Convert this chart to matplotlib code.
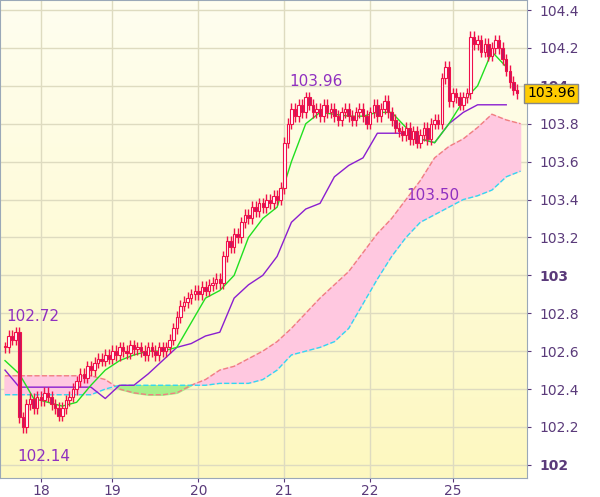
import matplotlib.pyplot as plt
import numpy as np
from matplotlib.colors import LinearSegmentedColormap

# hourly closes
closes = [102.62,102.68,102.66,102.70,102.25,102.20,102.32,102.35,102.30,102.36,102.34,102.38,
          102.36,102.32,102.30,102.26,102.30,102.34,102.36,102.40,102.44,102.48,102.46,102.52,
          102.50,102.54,102.56,102.55,102.58,102.56,102.60,102.58,102.62,102.60,102.59,102.63,
          102.61,102.62,102.60,102.58,102.62,102.60,102.58,102.62,102.60,102.62,102.66,102.72,
          102.78,102.84,102.86,102.88,102.90,102.92,102.90,102.94,102.92,102.95,102.96,102.98,
          102.96,103.10,103.18,103.15,103.22,103.20,103.28,103.32,103.30,103.36,103.34,103.38,
          103.36,103.40,103.38,103.42,103.40,103.46,103.70,103.80,103.88,103.84,103.90,103.86,
          103.94,103.90,103.86,103.88,103.84,103.90,103.86,103.88,103.84,103.82,103.86,103.88,
          103.84,103.82,103.86,103.88,103.84,103.80,103.86,103.90,103.84,103.88,103.92,103.86,
          103.82,103.78,103.76,103.74,103.78,103.72,103.76,103.70,103.74,103.78,103.72,103.80,
          103.82,103.80,104.04,104.10,103.92,103.96,103.94,103.90,103.94,103.96,104.26,104.22,
          104.24,104.18,104.22,104.16,104.20,104.24,104.20,104.14,104.08,104.02,103.98,103.96]

# ichimoku lines sampled every 4 bars
span_a = [102.47]*7 + [102.45,102.40,102.38,102.37,102.37,102.38,102.42,102.45,102.50,102.52,
          102.56,102.60,102.65,102.72,102.80,102.88,102.95,103.02,103.12,103.22,103.30,103.40,
          103.50,103.62,103.68,103.72,103.78,103.85,103.82,103.80]
span_b = [102.37]*7 + [102.40,102.42,102.42,102.42,102.42,102.42,102.42,102.42,102.43,102.43,
          102.43,102.45,102.50,102.58,102.60,102.62,102.65,102.72,102.85,102.98,103.10,103.20,
          103.28,103.32,103.36,103.40,103.42,103.45,103.52,103.55]
kijun = [102.50,102.41,102.41,102.41,102.41,102.41,102.41,102.35,102.42,102.42,102.48,102.55,
         102.62,102.64,102.68,102.70,102.88,102.95,103.00,103.10,103.28,103.35,103.38,103.52,
         103.58,103.62,103.75,103.75,103.75,103.72,103.70,103.80,103.86,103.90,103.90,103.90]
tenkan = [102.55,102.48,102.35,102.33,102.31,102.33,102.42,102.50,102.55,102.58,102.60,102.60,
          102.62,102.75,102.88,102.92,103.00,103.20,103.30,103.36,103.60,103.80,103.86,103.85,
          103.84,103.84,103.86,103.86,103.78,103.72,103.70,103.80,103.92,104.00,104.18,104.10]
day_labels = ['18', '19', '20', '21', '22', '25']
day_pos = [10, 30, 54, 78, 102, 125]
last_price = 103.96

fig = plt.figure(figsize=(6, 4.97), dpi=100)
ax = fig.add_axes([0, 0.038, 527/600, 0.962])
xl = (-1.4, 145.8)
yl = (101.93, 104.453)

# pale yellow gradient background
grad = np.linspace(0, 1, 100).reshape(-1, 1)
cm = LinearSegmentedColormap.from_list('bg', ['#fdf8c0', '#fffef0'])
ax.imshow(grad, extent=[xl[0], xl[1], yl[0], yl[1]], origin='lower', aspect='auto', cmap=cm, zorder=0)

ax.grid(True, color='#dedbc0', lw=1, zorder=1)

xs = np.arange(0, 4*len(span_a), 4)
a = np.array(span_a); b = np.array(span_b)
ax.fill_between(xs, a, b, where=a >= b, color='#ffc8e0', zorder=2, interpolate=True)
ax.fill_between(xs, a, b, where=a < b, color='#a8f08a', zorder=2, interpolate=True)
ax.plot(xs, a, color='#f08080', ls='--', lw=1, zorder=3)
ax.plot(xs, b, color='#30d8f0', ls='--', lw=1, zorder=3)

xk = np.arange(0, 4*len(kijun), 4)
ax.plot(xk, kijun, color='#8a1ed0', lw=1, zorder=4)
ax.plot(xk, tenkan, color='#20e020', lw=1, zorder=4)

opens = [closes[0]] + closes[:-1]
for i, (o, c) in enumerate(zip(opens, closes)):
    hi = max(o, c) + 0.03
    lo = min(o, c) - 0.03
    ax.vlines(i, lo, hi, color='#f0104a', lw=1, zorder=5)
    up = c >= o
    h = max(abs(c - o), 0.006)
    ax.bar(i, h, bottom=min(o, c), width=0.7, color='white' if up else '#c01860',
           edgecolor='#f0104a', lw=0.8, zorder=6)

ax.set_xlim(*xl)
ax.set_ylim(*yl)
ax.set_xticks(day_pos)
ax.set_xticklabels(day_labels)
yt = [102, 102.2, 102.4, 102.6, 102.8, 103, 103.2, 103.4, 103.6, 103.8, 104, 104.2, 104.4]
ax.set_yticks(yt)
ax.set_yticklabels(['102' if v == 102 else '103' if v == 103 else '104' if v == 104 else f'{v:.1f}' for v in yt])
ax.yaxis.tick_right()
ax.tick_params(colors='#5a3a7a', labelsize=10, length=3)
ax.tick_params(axis='x', pad=1)
ax.tick_params(axis='y', pad=6)
for lbl, v in zip(ax.get_yticklabels(), yt):
    if v in (102, 103, 104):
        lbl.set_fontweight('bold')
for s in ax.spines.values():
    s.set_color('#9aa8b8')

ax.text(1.0, last_price, f'{last_price:.2f}', transform=ax.get_yaxis_transform(), ha='left', va='center',
        fontsize=10, color='black', zorder=10,
        bbox=dict(boxstyle='square,pad=0.2', fc='#ffcc00', ec='#888888'))

pc = '#9030c0'
ax.text(0.5, 102.76, '102.72', color=pc, fontsize=11)
ax.text(3.5, 102.02, '102.14', color=pc, fontsize=11)
ax.text(79.5, 104.00, '103.96', color=pc, fontsize=11)
ax.text(112, 103.40, '103.50', color=pc, fontsize=11)

fig.savefig('out.png')
